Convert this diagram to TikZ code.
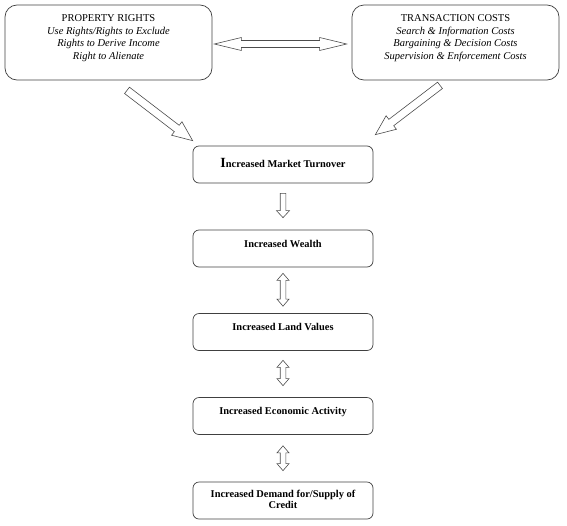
\documentclass[tikz,border=0pt]{standalone}
\usepackage{fontspec}
\setmainfont{Liberation Serif}
\usetikzlibrary{calc}
% single block arrow: from, to, half shaft, half head, head length
\newcommand{\blockarrow}[5]{%
  \draw[arrowline] ($(#1)!#3!90:(#2)$) -- ($(#2)!#5!(#1)!#3!-90:(#1)$) -- ($(#2)!#5!(#1)!#4!-90:(#1)$) -- (#2) -- ($(#2)!#5!(#1)!#4!90:(#1)$) -- ($(#2)!#5!(#1)!#3!90:(#1)$) -- ($(#1)!#3!-90:(#2)$) -- cycle;}
% double block arrow
\newcommand{\dblockarrow}[5]{%
  \draw[arrowline] (#1) -- ($(#1)!#5!(#2)!#4!90:(#2)$) -- ($(#1)!#5!(#2)!#3!90:(#2)$) -- ($(#2)!#5!(#1)!#3!-90:(#1)$) -- ($(#2)!#5!(#1)!#4!-90:(#1)$) -- (#2) -- ($(#2)!#5!(#1)!#4!90:(#1)$) -- ($(#2)!#5!(#1)!#3!90:(#1)$) -- ($(#1)!#5!(#2)!#3!-90:(#2)$) -- ($(#1)!#5!(#2)!#4!-90:(#2)$) -- cycle;}
\begin{document}
\begin{tikzpicture}[x=1pt,y=-1pt,
  basebox/.style={draw=black!75, line width=0.7pt, rounded corners=6pt, minimum width=180pt, minimum height=37pt, inner sep=0pt, font=\fontsize{10.4}{11}\selectfont\bfseries},
  onel/.style={basebox, text height=7pt, text depth=10pt},
  topbox/.style={draw=black!75, line width=0.7pt, rounded corners=12pt, minimum width=207pt, minimum height=75pt, inner sep=0pt, font=\fontsize{10.5}{12.7}\selectfont},
  arrowline/.style={draw=black!70, line width=0.6pt, line join=miter}]
\useasboundingbox (0,0) rectangle (567,525);

\node[topbox] (pr) at (108.5,42.5) {\begin{tabular}{@{}c@{}}PROPERTY RIGHTS\\ \itshape Use Rights/Rights to Exclude\\ \itshape Rights to Derive Income\\ \itshape Right to Alienate\\[9pt]\end{tabular}};
\node[topbox] (tc) at (455.5,42.5) {\begin{tabular}{@{}c@{}}TRANSACTION COSTS\\ \itshape Search \& Information Costs\\ \itshape Bargaining \& Decision Costs\\ \itshape Supervision \& Enforcement Costs\\[9pt]\end{tabular}};

\node[basebox, text height=9pt, text depth=3pt] (mt) at (283,164.5) {{\fontsize{14}{14}\selectfont I}ncreased Market Turnover};
\node[onel] (w) at (283,248.5) {Increased Wealth};
\node[onel] (lv) at (283,332) {Increased Land Values};
\node[onel] (ea) at (283,416) {Increased Economic Activity};
\node[basebox] (cr) at (283,500.5) {\begin{tabular}{@{}c@{}}Increased Demand for/Supply of\\ Credit\end{tabular}};

\coordinate (h1) at ($(pr.east)+(2,1.5)$);
\coordinate (h2) at ($(tc.west)+(-5,1.5)$);
\coordinate (dl1) at ($(pr.south)+(18.5,10)$);
\coordinate (dl2) at ($(mt.north west)+(0,-5)$);
\coordinate (dr1) at ($(tc.south)+(-15.5,5)$);
\coordinate (dr2) at ($(mt.north east)+(2,-11)$);
\coordinate (a1) at ($(mt.south)+(0,10)$);
\coordinate (a2) at ($(w.north)+(0,-12)$);
\coordinate (b1) at ($(w.south)+(0,6)$);
\coordinate (b2) at ($(lv.north)+(0,-7)$);
\coordinate (c1) at ($(lv.south)+(0,9.5)$);
\coordinate (c2) at ($(ea.north)+(0,-11.5)$);
\coordinate (d1) at ($(ea.south)+(0,11)$);
\coordinate (d2) at ($(cr.north)+(0,-11)$);

\dblockarrow{h1}{h2}{3.5pt}{6.5pt}{27pt}
\blockarrow{dl1}{dl2}{4pt}{8.5pt}{20pt}
\blockarrow{dr1}{dr2}{4pt}{8.5pt}{20pt}
\blockarrow{a1}{a2}{2.8pt}{6.5pt}{7pt}
\dblockarrow{b1}{b2}{2.8pt}{6pt}{7pt}
\dblockarrow{c1}{c2}{2.8pt}{6pt}{7pt}
\dblockarrow{d1}{d2}{2.8pt}{6pt}{7pt}
\end{tikzpicture}
\end{document}
